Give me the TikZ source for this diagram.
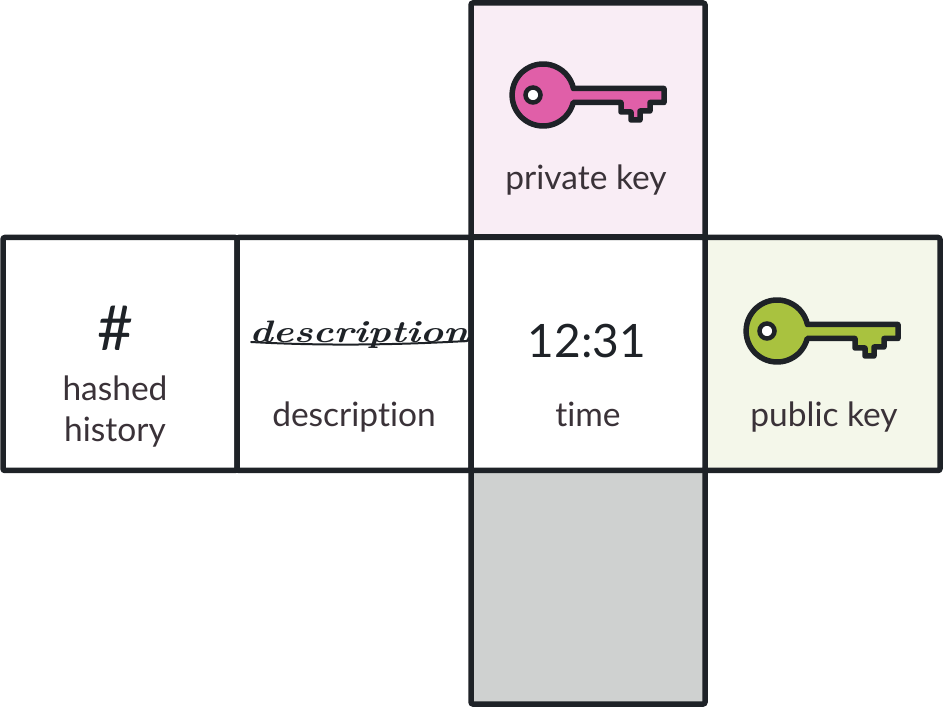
\documentclass[tikz,border=0pt]{standalone}
\usepackage{fontspec}
\usepackage{graphicx}
\setmainfont{Lato}[Ligatures=NoCommon]
\newfontfamily\scriptface{Latin Modern Roman}
\definecolor{ink}{HTML}{1E2227}
\definecolor{txt}{HTML}{3A3238}
\definecolor{pinkbg}{HTML}{F9EDF5}
\definecolor{greenbg}{HTML}{F4F7EA}
\definecolor{greybg}{HTML}{CFD1D0}
\definecolor{pinkkey}{HTML}{E05FA8}
\definecolor{greenkey}{HTML}{A9C23F}
\tikzset{
  cell/.style={draw=ink,line width=5.5pt,rounded corners=2pt,inner sep=0pt,outer sep=0pt,minimum width=#1,minimum height=233pt},
  lab/.style={anchor=base,inner sep=0pt,text=txt,font=\fontsize{33.5}{36}\selectfont},
  keyicon/.pic={
    \draw[ink,line width=5.5pt,line join=round,fill=#1]
      (30.4pt,6.5pt) -- (121pt,6.5pt) -- (121pt,-7.5pt) -- (107pt,-7.5pt) -- (107pt,-16pt)
      -- (97pt,-16pt) -- (97pt,-25pt) -- (88pt,-25pt) -- (88pt,-17pt) -- (78pt,-17pt)
      -- (78pt,-7.5pt) -- (30.2pt,-7.5pt) arc[start angle=-14,end angle=-348,radius=31pt] -- cycle;
    \draw[ink,line width=4.5pt,fill=white] (-10pt,0pt) circle[radius=7.5pt];
  }
}
\begin{document}
\begin{tikzpicture}[x=1pt,y=1pt]
\useasboundingbox (0,0) rectangle (950,718);
\node[cell=234pt,minimum height=234pt,fill=pinkbg] (top) at (588,598) {};
\node[cell=234pt,minimum height=234pt,fill=greybg] (bottom) at (588,131) {};
\node[cell=235pt,fill=greenbg] (pub) at (822.5,364) {};
\node[cell=234pt,fill=white] (hist) at (120,364) {};
\node[cell=234pt,fill=white] (desc) at (354,364) {};
\node[cell=234pt,fill=white] (time) at (588,364) {};

\pic at (543,623) {keyicon=pinkkey};
\pic at (777,387) {keyicon=greenkey};

\node[lab] (privlab) at (586,528) {private key};
\node[lab] (publab) at (824,291) {public key};
\node[lab] (desclab) at (354,291) {description};
\node[lab] (timelab) at (588,291) {time};
\node[lab] (hist1) at (115,317) {hashed};
\node[lab] (hist2) at (115,276) {history};
\node[anchor=base,inner sep=0pt,text=ink,font=\fontsize{46}{50}\selectfont] (clock) at (587,360) {12:31};
\node[anchor=base,inner sep=0pt,text=ink,font=\fontsize{62}{60}\selectfont] (hash) at (115,367) {\#};
\node[anchor=base,inner sep=0pt,text=ink] (sig) at (359,375)
  {\scalebox{1.27}[1.0]{\scriptface\fontsize{31}{31}\selectfont\itshape\bfseries description}};
\coordinate (sigA) at (sig.base west);
\coordinate (sigB) at (sig.base east);
\draw[ink,line width=2pt,line cap=round] ([xshift=2pt,yshift=1pt]sigA) .. controls +(70,-4) and +(-70,-4) .. ([xshift=-2pt,yshift=2pt]sigB) .. controls +(4,1) and +(-2,-3) .. ([xshift=2pt,yshift=10pt]sigB);
\end{tikzpicture}
\end{document}
